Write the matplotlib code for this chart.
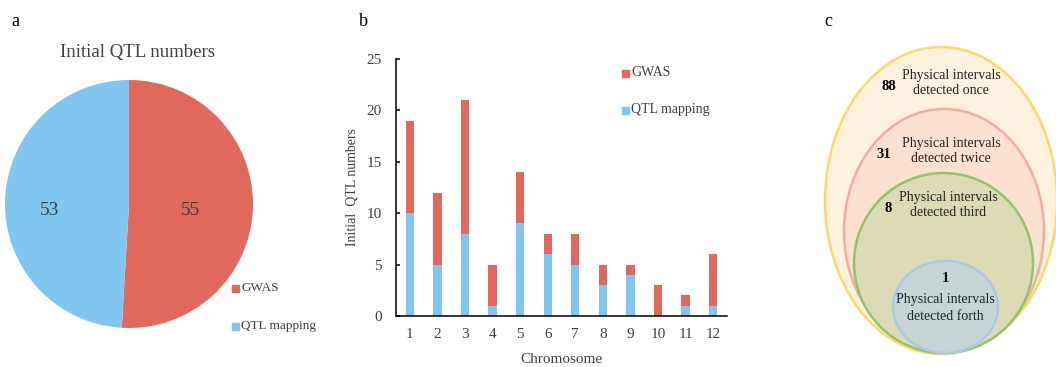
import matplotlib
matplotlib.use("Agg")
import matplotlib.pyplot as plt
from matplotlib.patches import Ellipse
import numpy as np

plt.rcParams['font.family'] = ['Liberation Serif', 'DejaVu Serif']

# ---- data ----
pie_labels = ["GWAS", "QTL mapping"]
pie_values = [55, 53]

chromosomes = [str(i) for i in range(1, 13)]
qtl_mapping = [10, 5, 8, 1, 9, 6, 5, 3, 4, 0, 1, 1]
gwas = [9, 7, 13, 4, 5, 2, 3, 2, 1, 3, 1, 5]

venn_counts = [88, 31, 8, 1]
venn_line1 = ["Physical intervals"] * 4
venn_line2 = ["detected once", "detected twice", "detected third", "detected forth"]

RED = "#E0685D"
BLUE = "#7FC7F0"
GRAY = "#404040"

W, H = 1056, 367
fig = plt.figure(figsize=(W / 100, H / 100), dpi=100)

def px_axes(x0, y0, x1, y1):
    return fig.add_axes([x0 / W, 1 - y1 / H, (x1 - x0) / W, (y1 - y0) / H])

# ---- panel a: pie ----
axp = px_axes(5, 80, 253, 328)
axp.pie(pie_values, colors=[RED, BLUE], startangle=90, counterclock=False, radius=1.0)
axp.set_xlim(-1, 1)
axp.set_ylim(-1, 1)
axp.set_aspect('equal')
total = sum(pie_values)
start = 90
label_r = [0.50, 0.64]
label_dy = [-0.035, -0.07]
for v, r, dy in zip(pie_values, label_r, label_dy):
    span = 360 * v / total
    mid = start - span / 2
    start -= span
    axp.text(r * np.cos(np.radians(mid)), r * np.sin(np.radians(mid)) + dy, str(v),
             ha='center', va='center', fontsize=14, color=GRAY)
fig.text(138 / W, 1 - 53 / H, "Initial QTL numbers", ha='center', va='center',
         fontsize=13.5, color=GRAY)
for i, (lab, col) in enumerate(zip(pie_labels, [RED, BLUE])):
    y = 288 + i * 38
    fig.patches.append(plt.Rectangle((232 / W, 1 - (y + 4) / H), 7 / W, 7 / H,
                                     transform=fig.transFigure, color=col))
    fig.text(241 / W, 1 - y / H, lab, ha='left', va='center', fontsize=9.5, color=GRAY)

# ---- panel b: stacked bars ----
axb = px_axes(396, 59, 727, 316)
x = np.arange(1, 13)
axb.bar(x, qtl_mapping, width=0.3, color=BLUE, label="QTL mapping")
axb.bar(x, gwas, width=0.3, bottom=qtl_mapping, color=RED, label="GWAS")
axb.set_xlim(0.5, 12.5)
axb.set_ylim(0, 25)
axb.set_yticks([0, 5, 10, 15, 20, 25])
axb.set_xticks(x)
axb.set_xticklabels(chromosomes)
axb.spines['top'].set_visible(False)
axb.spines['right'].set_visible(False)
for s in ['left', 'bottom']:
    axb.spines[s].set_linewidth(1.1)
axb.tick_params(axis='y', direction='in', length=3, width=1.1, labelsize=11,
                labelcolor=GRAY, pad=10)
axb.tick_params(axis='x', length=0, labelsize=11, labelcolor=GRAY, pad=9)
axb.set_xlabel("Chromosome", fontsize=11, color=GRAY, labelpad=8)
axb.set_ylabel("Initial  QTL numbers", fontsize=10, color=GRAY, labelpad=6)
for i, (lab, col) in enumerate(zip(pie_labels, [RED, BLUE])):
    y = 73 + i * 37
    fig.patches.append(plt.Rectangle((622 / W, 1 - (y + 4) / H), 7 / W, 7 / H,
                                     transform=fig.transFigure, color=col))
    fig.text(631 / W, 1 - y / H, lab, ha='left', va='center', fontsize=10, color=GRAY)

# ---- panel c: nested ellipses ----
axc = px_axes(800, 0, 1056, 367)
axc.set_xlim(800, 1056)
axc.set_ylim(367, 0)
axc.axis('off')
ell = [
    ((941, 200.5), 232, 307, "#FFF2DF", "#FFD966"),
    ((944, 231), 200, 244, "#FCE1D0", "#F5ACA0"),
    ((943.5, 263), 179, 180, "#DDDBB6", "#8DC66C"),
    ((945.5, 307), 105, 92, "#C8D5D6", "#A9C9E8"),
]
for (c, w, h, fc, ec) in ell:
    axc.add_patch(Ellipse(c, w, h, facecolor=fc, edgecolor=ec, linewidth=1.8))
num_pos = [(889, 86), (884, 154), (888, 209), (945, 278)]
lab_pos = [(951, 75), (951, 143), (948, 197), (945, 300)]
for n, (nx, ny), l1, l2, (lx, ly) in zip(venn_counts, num_pos, venn_line1, venn_line2, lab_pos):
    axc.text(nx, ny, str(n), ha='center', va='center', fontsize=10.5,
             fontweight='bold', color='black')
    axc.text(lx, ly, l1, ha='center', va='center', fontsize=10, color='#222222')
    axc.text(lx, ly + 16, l2, ha='center', va='center', fontsize=10, color='#222222')

# panel labels
fig.text(15 / W, 1 - 22 / H, "a", ha='center', va='center', fontsize=13)
fig.text(363 / W, 1 - 22 / H, "b", ha='center', va='center', fontsize=13)
fig.text(828 / W, 1 - 22 / H, "c", ha='center', va='center', fontsize=13)

fig.savefig("out.png", dpi=100)
